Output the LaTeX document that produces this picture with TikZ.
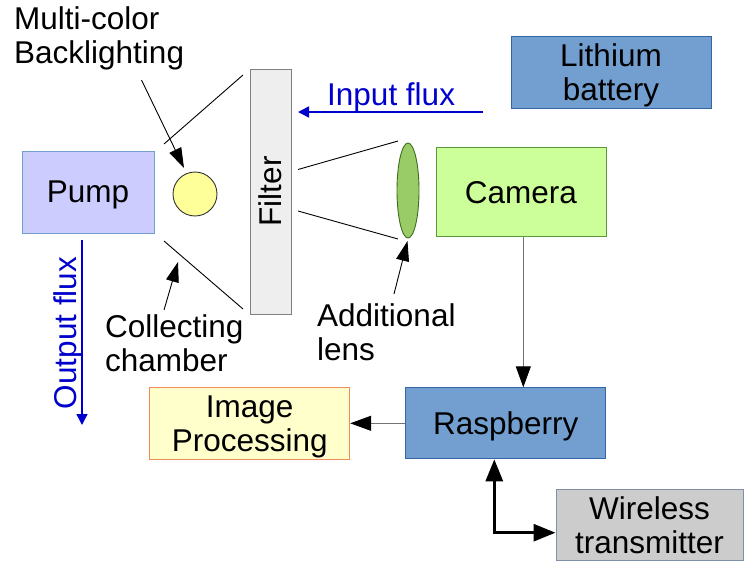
\documentclass[tikz,border=0pt]{standalone}
\usepackage{fontspec}
\setmainfont{Liberation Sans}
\usepackage{tikz}
\usetikzlibrary{arrows.meta}
\usetikzlibrary{shapes.geometric}
\usetikzlibrary{positioning}
\definecolor{pumpfill}{HTML}{CCCCFF}
\definecolor{pumpline}{HTML}{729FCF}
\definecolor{lampfill}{HTML}{FFFF99}
\definecolor{filterfill}{HTML}{EEEEEE}
\definecolor{filterline}{HTML}{808080}
\definecolor{lensfill}{HTML}{99CC66}
\definecolor{lensline}{HTML}{3C6E1E}
\definecolor{camfill}{HTML}{CCFF99}
\definecolor{camline}{HTML}{5A9A3C}
\definecolor{bluefill}{HTML}{729FCF}
\definecolor{blueline}{HTML}{3465A4}
\definecolor{procfill}{HTML}{FFFFCC}
\definecolor{procline}{HTML}{F08C5A}
\definecolor{wirefill}{HTML}{CCCCCC}
\definecolor{wireline}{HTML}{7F8FA6}
\definecolor{fluxblue}{HTML}{0000CC}
\tikzset{box/.style={rectangle,draw,line width=1pt,inner sep=0pt,text depth=0pt,font=\fontsize{31.5}{34}\selectfont,align=center}}
\tikzset{lbl/.style={inner sep=0pt,font=\fontsize{31.5}{34}\selectfont,align=left}}
\tikzset{ray/.style={line width=0.9pt,black}}
\tikzset{pointer/.style={line width=0.9pt,-{Triangle[length=20pt,width=13pt]}}}
\tikzset{link/.style={line width=1pt,draw=black!55,-{Triangle[length=21pt,width=15pt,fill=black,color=black]}}}
\tikzset{radio/.style={line width=3pt,{Triangle[length=22pt,width=17pt]}-{Triangle[length=22pt,width=17pt]}}}
\tikzset{flux/.style={line width=1.6pt,fluxblue,-{Triangle[length=11pt,width=11pt]}}}

\begin{document}
\begin{tikzpicture}[x=1pt,y=-1pt]
\useasboundingbox (0,0) rectangle (744,562);
  \node[box, fill=pumpfill, draw=pumpline, minimum width=132pt, minimum height=82pt] (pump) at (88,192) {Pump};
  \node[circle, draw=black!80, fill=lampfill, minimum size=44pt, inner sep=0pt, line width=0.9pt] (lamp) at (195,194) {};
  \node[box, fill=filterfill, draw=filterline, minimum width=245pt, minimum height=41pt, rotate=90] (filter) at (270.5,191.5) {Filter};
  \node[ellipse, draw=lensline, fill=lensfill, minimum width=22pt, minimum height=95pt, inner sep=0pt, line width=0.9pt] (lens) at (408,190.5) {};
  \node[box, fill=camfill, draw=camline, minimum width=170pt, minimum height=89pt] (camera) at (521,192) {Camera};
  \node[box, fill=bluefill, draw=blueline, minimum width=200pt, minimum height=72pt] (battery) at (611,72) {Lithium\\battery};
  \node[box, fill=bluefill, draw=blueline, minimum width=200pt, minimum height=71pt] (rasp) at (505.7,423.3) {Raspberry};
  \node[box, fill=procfill, draw=procline, minimum width=200pt, minimum height=72pt] (proc) at (249.7,423.3) {Image\\Processing};
  \node[box, fill=wirefill, draw=wireline, minimum width=187pt, minimum height=71pt] (wireless) at (649.5,525) {Wireless\\transmitter};

  \coordinate (ul1) at (164,144);
  \coordinate (ul2) at (243,75);
  \coordinate (ll1) at (164,241);
  \coordinate (ll2) at (243,309);
  \coordinate (ur1) at (298,169.5);
  \coordinate (ur2) at (398,141);
  \coordinate (lr1) at (298,211);
  \coordinate (lr2) at (398,239);
  \draw[ray] (ul1) -- (ul2);
  \draw[ray] (ll1) -- (ll2);
  \draw[ray] (ur1) -- (ur2);
  \draw[ray] (lr1) -- (lr2);

  \node[lbl, anchor=north west] (backlbl) at (14,6) {Multi-color\\Backlighting};
  \node[lbl, anchor=north west] (chamblbl) at (105,314) {Collecting\\chamber};
  \node[lbl, anchor=north west] (lenslbl) at (317,303) {Additional\\lens};
  \coordinate (backtail) at (141.5,80);
  \coordinate (backtip) at (184,168);
  \coordinate (chamtail) at (164,310);
  \coordinate (chamtip) at (178,262);
  \coordinate (lenstail) at (394,294);
  \coordinate (lenstip) at (407.5,241);
  \draw[pointer] (backtail) -- (backtip);
  \draw[pointer] (chamtail) -- (chamtip);
  \draw[pointer] (lenstail) -- (lenstip);

  \coordinate (influx1) at (483,112);
  \coordinate (influx2) at (298,112);
  \draw[flux] (influx1) -- (influx2);
  \node[lbl, anchor=base west, text=fluxblue] (inlbl) at (327,105) {Input flux};
  \coordinate (outflux1) at (82,240);
  \coordinate (outflux2) at (82,425);
  \draw[flux] (outflux1) -- (outflux2);
  \node[lbl, rotate=90, anchor=base, text=fluxblue] (outlbl) at (76.5,333) {Output flux};

  \draw[link] (camera.south -| 523.3,0) -- (rasp.north -| 523.3,0);
  \draw[link] (rasp.west) -- (proc.east);
  \coordinate (bend) at (494.3,532.7);
  \draw[radio] (rasp.south -| bend) -- (bend) -- (bend -| wireless.west);
\end{tikzpicture}
\end{document}
